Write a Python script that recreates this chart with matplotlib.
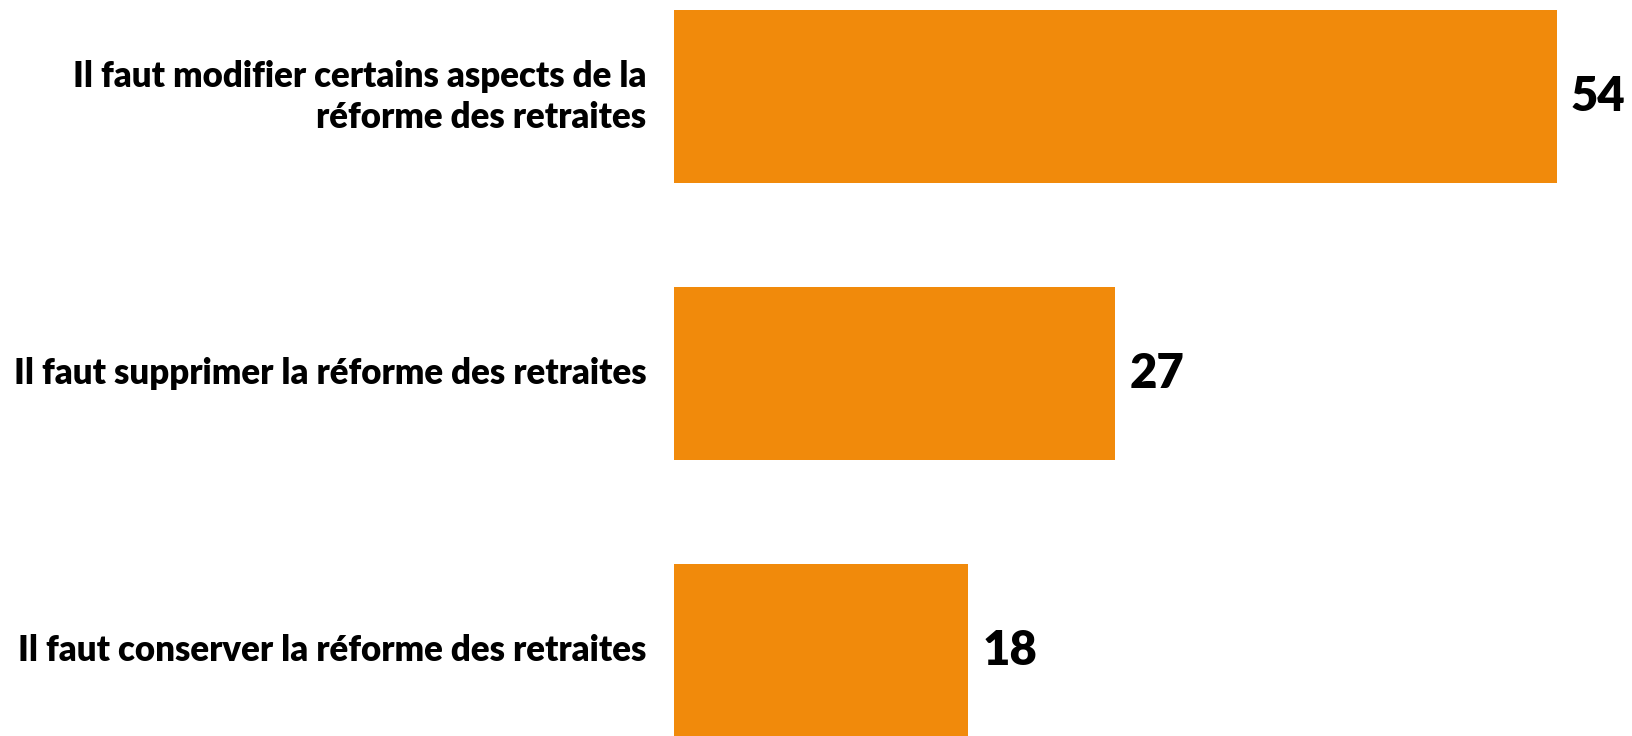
import matplotlib.pyplot as plt

labels = ['Il faut modifier certains aspects de la\nréforme des retraites',
          'Il faut supprimer la réforme des retraites',
          'Il faut conserver la réforme des retraites']
values = [54, 27, 18]

plt.rcParams['font.family'] = ['Lato', 'DejaVu Sans']

fig = plt.figure(figsize=(16.32, 7.36), dpi=100)
ax = fig.add_axes([674 / 1632, 0, 1 - 674 / 1632, 1])

pos = list(range(len(values)))
ax.barh(pos, values, height=0.623, color='#F18A0B')
ax.set_xlim(0, 58.6)
ax.set_ylim(2.308, -0.349)

for p, v, lab in zip(pos, values, labels):
    ax.annotate(str(v), (v, p), xytext=(10, 0), textcoords='offset points',
                ha='left', va='center', fontsize=34, fontweight='heavy', color='black')
    ax.annotate(lab, (0, p), xytext=(-20, 0), textcoords='offset points',
                ha='right', va='center', ma='right', fontsize=25, fontweight='heavy',
                color='black', linespacing=1.3, annotation_clip=False)

ax.axis('off')
fig.savefig('out.png', dpi=100)
